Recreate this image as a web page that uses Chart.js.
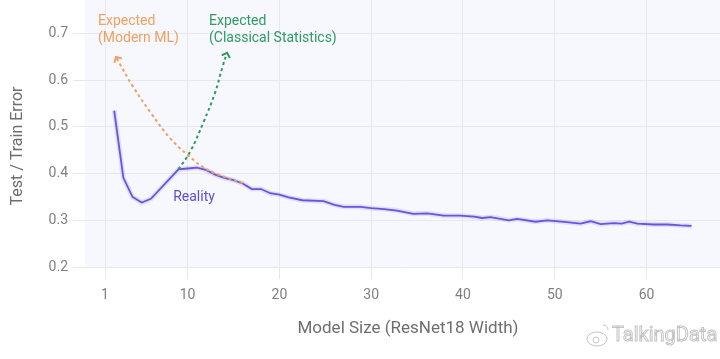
<!DOCTYPE html>
<html>
<head>
<meta charset="utf-8">
<script src="https://cdn.jsdelivr.net/npm/chart.js@4.4.1/dist/chart.umd.min.js"></script>
<style>
  html, body { margin: 0; padding: 0; background: #fff; }
  #chart { display: block; }
</style>
</head>
<body>
<canvas id="chart" width="720" height="359"></canvas>
<script>
const widths = [2, 3, 4, 5, 6, 9, 10, 11, 12, 13, 14, 15, 16, 17, 18, 19, 20, 21, 22.5, 24.8,
  26, 27, 28.8, 30, 31.4, 32.8, 34.6, 36.1, 37.9, 39.7, 41.2, 42.1, 43, 45, 45.9, 47.9, 49.2,
  51.3, 52.8, 53.9, 55, 56.4, 57.3, 58.1, 59, 60.8, 62.3, 63.7, 64.9];
const testError = [0.535, 0.391, 0.35, 0.338, 0.346, 0.409, 0.411, 0.413, 0.408, 0.398, 0.391,
  0.386, 0.379, 0.367, 0.367, 0.358, 0.355, 0.349, 0.343, 0.341,
  0.333, 0.329, 0.329, 0.326, 0.324, 0.321, 0.314, 0.315, 0.310, 0.310, 0.308, 0.305, 0.307,
  0.300, 0.303, 0.297, 0.300, 0.296, 0.293, 0.298, 0.292, 0.294, 0.293, 0.297, 0.293,
  0.291, 0.291, 0.289, 0.288];

// The two hand-drawn "expected" curves
const modernX = [16, 14, 12, 10, 8, 6, 4, 2.2];
const modernY = [0.38, 0.393, 0.41, 0.44, 0.478, 0.53, 0.588, 0.65];
const classicalX = [9, 10.3, 11.7, 13.0, 13.8, 14.3];
const classicalY = [0.409, 0.448, 0.509, 0.574, 0.629, 0.659];

const xTicks = [1, 10, 20, 30, 40, 50, 60];
const yTicks = [0.2, 0.3, 0.4, 0.5, 0.6, 0.7];

const purple = '#5a4fd6';
const orange = '#f0a060';
const green = '#2f9a62';
const gridColor = '#e7e8ee';

function pts(xs, ys) {
  return xs.map((x, i) => ({ x: x, y: ys[i] }));
}

// background, arrow heads, text labels, axis titles
const decor = {
  id: 'decor',
  beforeDraw(chart) {
    const { ctx, chartArea: a } = chart;
    ctx.save();
    ctx.fillStyle = '#f7f8fd';
    ctx.fillRect(a.left, a.top, a.right - a.left, a.bottom - a.top);
    ctx.restore();
  },
  afterDraw(chart) {
    const { ctx, scales: { x, y } } = chart;
    ctx.save();

    // arrow heads at the end of the dotted curves
    [[modernX, modernY, orange], [classicalX, classicalY, green]].forEach(([xs, ys, c]) => {
      const n = xs.length;
      const tx = x.getPixelForValue(xs[n - 1]), ty = y.getPixelForValue(ys[n - 1]);
      const px = x.getPixelForValue(xs[n - 2]), py = y.getPixelForValue(ys[n - 2]);
      const ang = Math.atan2(ty - py, tx - px);
      ctx.strokeStyle = c;
      ctx.lineWidth = 2;
      ctx.setLineDash([]);
      ctx.beginPath();
      ctx.moveTo(tx - 6 * Math.cos(ang - 0.8), ty - 6 * Math.sin(ang - 0.8));
      ctx.lineTo(tx, ty);
      ctx.lineTo(tx - 6 * Math.cos(ang + 0.8), ty - 6 * Math.sin(ang + 0.8));
      ctx.stroke();
    });

    ctx.font = '14px Roboto';
    ctx.textBaseline = 'middle';
    ctx.textAlign = 'left';
    ctx.fillStyle = orange;
    ctx.fillText('Expected', 98, 21);
    ctx.fillText('(Modern ML)', 98, 38);
    ctx.fillStyle = green;
    ctx.fillText('Expected', 209, 21);
    ctx.fillText('(Classical Statistics)', 209, 38);
    ctx.fillStyle = purple;
    ctx.textAlign = 'center';
    ctx.fillText('Reality', 194, 197);

    // axis titles
    ctx.fillStyle = '#6e6e6e';
    ctx.font = '17px Roboto';
    ctx.fillText('Model Size (ResNet18 Width)', 408, 329);
    ctx.save();
    ctx.translate(18, 146);
    ctx.rotate(-Math.PI / 2);
    ctx.font = '16px Roboto';
    ctx.fillText('Test / Train Error', 0, 0);
    ctx.restore();

    // watermark
    ctx.font = '20px Roboto';
    ctx.textAlign = 'left';
    ctx.lineWidth = 1;
    ctx.strokeStyle = '#c4c4c4';
    ctx.fillStyle = '#ffffff';
    ctx.fillText('TalkingData', 612, 336);
    ctx.strokeText('TalkingData', 612, 336);
    ctx.beginPath();
    ctx.ellipse(597, 339, 10, 7, 0, 0, Math.PI * 2);
    ctx.stroke();
    ctx.beginPath();
    ctx.arc(596, 340, 3, 0, Math.PI * 2);
    ctx.stroke();
    ctx.beginPath();
    ctx.arc(603, 330, 5, -Math.PI / 2, 0);
    ctx.stroke();
    ctx.restore();
  }
};

new Chart(document.getElementById('chart'), {
  type: 'line',
  data: {
    datasets: [
      {
        label: 'Modern ML',
        data: pts(modernX, modernY),
        borderColor: orange,
        borderWidth: 2,
        borderDash: [3, 3],
        tension: 0.4,
        pointRadius: 0,
        fill: false
      },
      {
        label: 'Classical',
        data: pts(classicalX, classicalY),
        borderColor: green,
        borderWidth: 2,
        borderDash: [3, 3],
        tension: 0.4,
        pointRadius: 0,
        fill: false
      },
      {
        label: 'band',
        data: pts(widths, testError),
        borderColor: 'rgba(140, 120, 235, 0.2)',
        borderWidth: 5,
        pointRadius: 0,
        tension: 0,
        fill: false
      },
      {
        label: 'Reality',
        data: pts(widths, testError),
        borderColor: purple,
        borderWidth: 1.8,
        pointRadius: 0,
        tension: 0,
        fill: false
      }
    ]
  },
  options: {
    responsive: false,
    animation: false,
    devicePixelRatio: 1,
    layout: { padding: 0 },
    plugins: {
      legend: { display: false },
      tooltip: { enabled: false }
    },
    scales: {
      x: {
        type: 'linear',
        min: -1.18,
        max: 68,
        afterBuildTicks: (scale) => { scale.ticks = xTicks.map(v => ({ value: v })); },
        afterFit: (scale) => {
          scale.height = 92;
          scale.paddingLeft = 0;
          scale.paddingRight = 0;
        },
        grid: { color: gridColor, tickLength: 12, drawTicks: true },
        border: { display: false },
        ticks: {
          color: '#808080',
          font: { family: 'Roboto', size: 14 },
          padding: 8,
          maxRotation: 0
        }
      },
      y: {
        min: 0.2,
        max: 0.772,
        afterBuildTicks: (scale) => { scale.ticks = yTicks.map(v => ({ value: v })); },
        afterFit: (scale) => {
          scale.width = 85;
          scale.paddingTop = 0;
          scale.paddingBottom = 0;
        },
        grid: { color: gridColor, tickLength: 12, drawTicks: true },
        border: { display: false },
        ticks: {
          color: '#808080',
          font: { family: 'Roboto', size: 14 },
          padding: 5,
          callback: (v) => v.toFixed(1)
        }
      }
    }
  },
  plugins: [decor]
});
</script>
</body>
</html>
